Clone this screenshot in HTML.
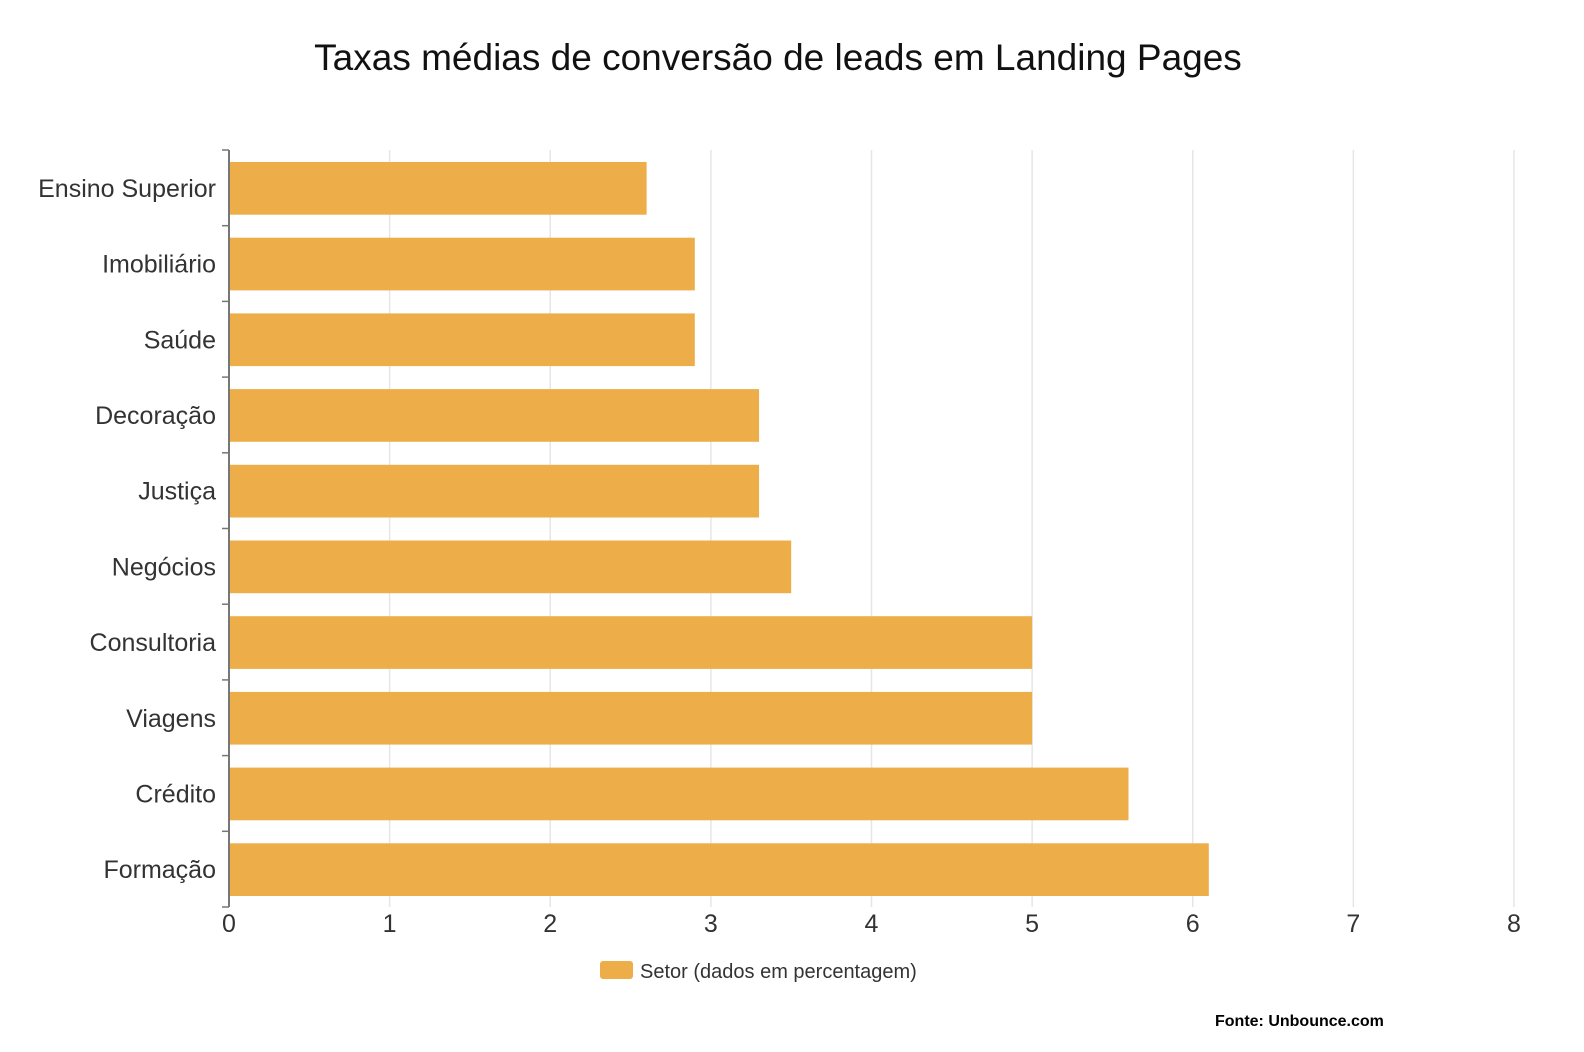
<!DOCTYPE html>
<html><head><meta charset="utf-8"><style>
body{margin:0;background:#fff;}
svg{display:block;font-family:"Liberation Sans","DejaVu Sans",sans-serif;}
</style></head><body>
<svg id="chart" width="1584" height="1052">
<text x="778" y="70" text-anchor="middle" font-size="37" fill="#111">Taxas médias de conversão de leads em Landing Pages</text>
<g id="grid"></g><g id="bars"></g><g id="axes"></g>
<rect x="600" y="961" width="33" height="18" rx="3" fill="#EDAE4A"/>
<text x="640" y="978" font-size="20" fill="#333">Setor (dados em percentagem)</text>
<text x="1215" y="1026" font-size="16" font-weight="bold" fill="#000">Fonte: Unbounce.com</text>
</svg>
<script>
const categories=["Ensino Superior","Imobiliário","Saúde","Decoração","Justiça","Negócios","Consultoria","Viagens","Crédito","Formação"];
const values=[2.6,2.9,2.9,3.3,3.3,3.5,5,5,5.6,6.1];
const ticks=[0,1,2,3,4,5,6,7,8];
const NS="http://www.w3.org/2000/svg";
const x0=229,x1=1514,yTop=150,yBot=907,xMax=8;
const band=(yBot-yTop)/categories.length;
const xs=v=>x0+(x1-x0)*v/xMax;
function mk(t,a,p){const e=document.createElementNS(NS,t);for(const k in a)e.setAttribute(k,a[k]);p.appendChild(e);return e;}
const grid=document.getElementById('grid'),bars=document.getElementById('bars'),axes=document.getElementById('axes');
ticks.forEach(t=>{
 if(t>0){const l=mk('line',{x1:xs(t),x2:xs(t),y1:yTop,y2:yBot,stroke:'#e6e6e6','stroke-width':1.5},grid);
 
 }
 const tx=mk('text',{x:xs(t),y:932,'text-anchor':'middle','font-size':25,fill:'#333'},axes);
 tx.textContent=t;
 
 
});
categories.forEach((c,i)=>{
 const y=yTop+i*band;
 const r=mk('rect',{x:x0,y:y+12,width:xs(values[i])-x0,height:band-23,fill:'#EDAE4A'},bars);
 
 
 const tx=mk('text',{x:216,y:y+band/2+9,'text-anchor':'end','font-size':25,fill:'#333'},axes);
 tx.textContent=c;
 
 
});
for(let i=0;i<=categories.length;i++){
 const y=yTop+i*band;
 const l=mk('line',{x1:222,x2:x0,y1:y,y2:y,stroke:'#777','stroke-width':1.5},axes);
 
 
}
const ax=mk('line',{x1:x0,x2:x0,y1:yTop,y2:yBot,stroke:'#777','stroke-width':2},axes);


</script>
</body></html>
